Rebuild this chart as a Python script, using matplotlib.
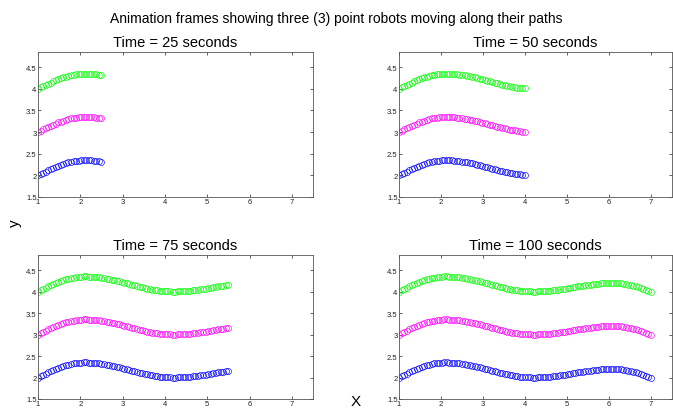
import matplotlib
matplotlib.use("Agg")
import matplotlib.pyplot as plt

plt.rcParams['font.family'] = ['Liberation Sans', 'DejaVu Sans']

# x positions of the robots, one sample per second (t = 0..100)
x_path = [1.00, 1.06, 1.12, 1.18, 1.24, 1.30, 1.36, 1.42, 1.48, 1.54,
          1.60, 1.66, 1.72, 1.78, 1.84, 1.90, 1.96, 2.02, 2.08, 2.14,
          2.20, 2.26, 2.32, 2.38, 2.44, 2.50, 2.56, 2.62, 2.68, 2.74,
          2.80, 2.86, 2.92, 2.98, 3.04, 3.10, 3.16, 3.22, 3.28, 3.34,
          3.40, 3.46, 3.52, 3.58, 3.64, 3.70, 3.76, 3.82, 3.88, 3.94,
          4.00, 4.06, 4.12, 4.18, 4.24, 4.30, 4.36, 4.42, 4.48, 4.54,
          4.60, 4.66, 4.72, 4.78, 4.84, 4.90, 4.96, 5.02, 5.08, 5.14,
          5.20, 5.26, 5.32, 5.38, 5.44, 5.50, 5.56, 5.62, 5.68, 5.74,
          5.80, 5.86, 5.92, 5.98, 6.04, 6.10, 6.16, 6.22, 6.28, 6.34,
          6.40, 6.46, 6.52, 6.58, 6.64, 6.70, 6.76, 6.82, 6.88, 6.94,
          7.00]

y_blue = [2.000, 2.030, 2.060, 2.089, 2.118, 2.145, 2.172, 2.198, 2.222, 2.244,
          2.264, 2.283, 2.300, 2.314, 2.326, 2.336, 2.343, 2.348, 2.350, 2.350,
          2.348, 2.345, 2.341, 2.335, 2.328, 2.320, 2.310, 2.300, 2.288, 2.276,
          2.263, 2.249, 2.234, 2.219, 2.204, 2.188, 2.172, 2.157, 2.141, 2.126,
          2.111, 2.097, 2.083, 2.070, 2.058, 2.047, 2.037, 2.027, 2.020, 2.013,
          2.008, 2.004, 2.001, 2.000, 2.000, 2.001, 2.003, 2.007, 2.011, 2.015,
          2.021, 2.028, 2.035, 2.043, 2.051, 2.060, 2.069, 2.079, 2.088, 2.098,
          2.108, 2.118, 2.128, 2.137, 2.146, 2.155, 2.163, 2.170, 2.177, 2.183,
          2.188, 2.192, 2.196, 2.198, 2.200, 2.200, 2.199, 2.196, 2.190, 2.183,
          2.173, 2.162, 2.149, 2.134, 2.118, 2.100, 2.081, 2.062, 2.042, 2.021,
          2.000]

y_magenta = [3.000, 3.030, 3.060, 3.089, 3.118, 3.145, 3.172, 3.198, 3.222, 3.244,
             3.264, 3.283, 3.300, 3.314, 3.326, 3.336, 3.343, 3.348, 3.350, 3.350,
             3.348, 3.345, 3.341, 3.335, 3.328, 3.320, 3.310, 3.300, 3.288, 3.276,
             3.263, 3.249, 3.234, 3.219, 3.204, 3.188, 3.172, 3.157, 3.141, 3.126,
             3.111, 3.097, 3.083, 3.070, 3.058, 3.047, 3.037, 3.027, 3.020, 3.013,
             3.008, 3.004, 3.001, 3.000, 3.000, 3.001, 3.003, 3.007, 3.011, 3.015,
             3.021, 3.028, 3.035, 3.043, 3.051, 3.060, 3.069, 3.079, 3.088, 3.098,
             3.108, 3.118, 3.128, 3.137, 3.146, 3.155, 3.163, 3.170, 3.177, 3.183,
             3.188, 3.192, 3.196, 3.198, 3.200, 3.200, 3.199, 3.196, 3.190, 3.183,
             3.173, 3.162, 3.149, 3.134, 3.118, 3.100, 3.081, 3.062, 3.042, 3.021,
             3.000]

y_green = [4.000, 4.030, 4.060, 4.089, 4.118, 4.145, 4.172, 4.198, 4.222, 4.244,
           4.264, 4.283, 4.300, 4.314, 4.326, 4.336, 4.343, 4.348, 4.350, 4.350,
           4.348, 4.345, 4.341, 4.335, 4.328, 4.320, 4.310, 4.300, 4.288, 4.276,
           4.263, 4.249, 4.234, 4.219, 4.204, 4.188, 4.172, 4.157, 4.141, 4.126,
           4.111, 4.097, 4.083, 4.070, 4.058, 4.047, 4.037, 4.027, 4.020, 4.013,
           4.008, 4.004, 4.001, 4.000, 4.000, 4.001, 4.003, 4.007, 4.011, 4.015,
           4.021, 4.028, 4.035, 4.043, 4.051, 4.060, 4.069, 4.079, 4.088, 4.098,
           4.108, 4.118, 4.128, 4.137, 4.146, 4.155, 4.163, 4.170, 4.177, 4.183,
           4.188, 4.192, 4.196, 4.198, 4.200, 4.200, 4.199, 4.196, 4.190, 4.183,
           4.173, 4.162, 4.149, 4.134, 4.118, 4.100, 4.081, 4.062, 4.042, 4.021,
           4.000]

frame_times = [25, 50, 75, 100]
robots = [("blue", y_blue, (0, 0, 1)),
          ("magenta", y_magenta, (1, 0, 1)),
          ("green", y_green, (0, 1, 0))]

fig = plt.figure(figsize=(6.73, 4.10), dpi=100)
W, H = 673.0, 410.0
# axes boxes in pixels: left, top, right, bottom
boxes = [(38, 53, 313, 198), (399, 53, 672, 198),
         (38, 256, 313, 400), (399, 256, 672, 400)]

for t, (l, tp, r, b) in zip(frame_times, boxes):
    ax = fig.add_axes([l / W, 1 - b / H, (r - l) / W, (b - tp) / H])
    for name, ys, col in robots:
        ax.plot(x_path[:t + 1], ys[:t + 1], linestyle="none", marker="o",
                markersize=4.3, markerfacecolor="none", markeredgecolor=col,
                markeredgewidth=0.45)
    ax.set_xlim(1, 7.5)
    ax.set_ylim(1.5, 4.85)
    ax.set_xticks([1, 2, 3, 4, 5, 6, 7])
    ax.set_yticks([1.5, 2, 2.5, 3, 3.5, 4, 4.5])
    ax.set_xticklabels(["1", "2", "3", "4", "5", "6", "7"])
    ax.set_yticklabels(["1.5", "2", "2.5", "3", "3.5", "4", "4.5"])
    ax.tick_params(direction="in", top=True, right=True, labelsize=5.5,
                   length=2.5, width=0.5, pad=1, colors="#222222")
    for s in ax.spines.values():
        s.set_linewidth(0.6)
        s.set_color("#555555")
    ax.set_title(f"Time = {t} seconds", fontsize=10.5, pad=4)

fig.text(0.5, 1 - 19 / H, "Animation frames showing three (3) point robots moving along their paths",
         ha="center", va="center", fontsize=10)
fig.text(15 / W, 1 - 223 / H, "y", ha="center", va="center", fontsize=11, rotation=90)
fig.text(356 / W, 1 - 402 / H, "X", ha="center", va="center", fontsize=11)

fig.savefig("out.png", dpi=100)
